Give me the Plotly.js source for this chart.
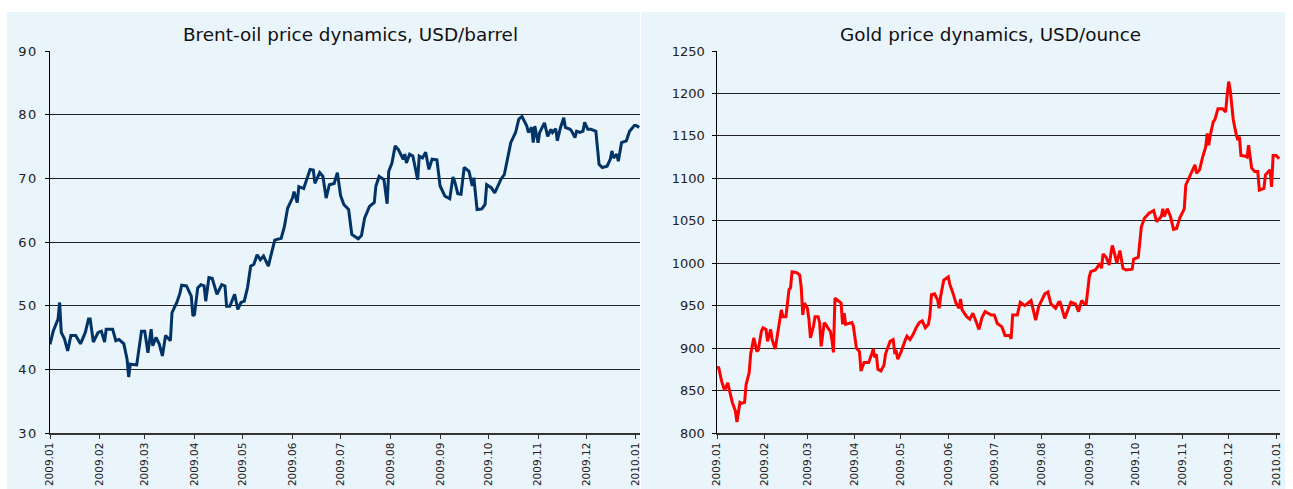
<!DOCTYPE html>
<html>
<head>
<meta charset="utf-8">
<script src="https://cdn.plot.ly/plotly-3.0.1.min.js"></script>
<style>
  html, body { margin: 0; padding: 0; background: #ffffff; }
  #chart { width: 1293px; height: 489px; }
  g.ytick text { letter-spacing: 1.5px; }
</style>
</head>
<body>
<div id="chart"></div>
<script>
// ---------- Data ----------
const brentDates = [
  "2009-01-01","2009-01-03","2009-01-06","2009-01-07","2009-01-08","2009-01-10","2009-01-12","2009-01-14","2009-01-17","2009-01-20",
  "2009-01-23","2009-01-25","2009-01-26","2009-01-28","2009-01-31","2009-02-02","2009-02-04","2009-02-05","2009-02-09","2009-02-11",
  "2009-02-13","2009-02-16","2009-02-18","2009-02-19","2009-02-20","2009-02-24","2009-02-27","2009-03-01","2009-03-03","2009-03-05",
  "2009-03-06","2009-03-08","2009-03-10","2009-03-12","2009-03-14","2009-03-17","2009-03-18","2009-03-21","2009-03-23","2009-03-24",
  "2009-03-27","2009-03-30","2009-03-31","2009-04-01","2009-04-03","2009-04-05","2009-04-07","2009-04-08","2009-04-10","2009-04-12",
  "2009-04-15","2009-04-18","2009-04-20","2009-04-21","2009-04-23","2009-04-26","2009-04-28","2009-04-30","2009-05-02","2009-05-04",
  "2009-05-06","2009-05-08","2009-05-10","2009-05-12","2009-05-14","2009-05-17","2009-05-19","2009-05-21","2009-05-25","2009-05-27",
  "2009-05-29","2009-06-01","2009-06-02","2009-06-04","2009-06-05","2009-06-08","2009-06-12","2009-06-14","2009-06-15","2009-06-18",
  "2009-06-20","2009-06-22","2009-06-24","2009-06-27","2009-06-29","2009-07-01","2009-07-03","2009-07-06","2009-07-08","2009-07-10",
  "2009-07-12","2009-07-14","2009-07-16","2009-07-19","2009-07-22","2009-07-23","2009-07-25","2009-07-28","2009-07-30","2009-07-31",
  "2009-08-02","2009-08-04","2009-08-06","2009-08-09","2009-08-10","2009-08-11","2009-08-13","2009-08-15","2009-08-18","2009-08-19",
  "2009-08-21","2009-08-23","2009-08-25","2009-08-27","2009-08-30","2009-09-01","2009-09-04","2009-09-07","2009-09-09","2009-09-10",
  "2009-09-12","2009-09-14","2009-09-16","2009-09-19","2009-09-21","2009-09-22","2009-09-24","2009-09-27","2009-09-29","2009-09-30",
  "2009-10-03","2009-10-05","2009-10-07","2009-10-09","2009-10-11","2009-10-13","2009-10-15","2009-10-18","2009-10-20","2009-10-22",
  "2009-10-25","2009-10-26","2009-10-28","2009-10-29","2009-10-30","2009-11-01","2009-11-02","2009-11-05","2009-11-07","2009-11-09",
  "2009-11-10","2009-11-12","2009-11-13","2009-11-15","2009-11-17","2009-11-18","2009-11-21","2009-11-22","2009-11-24","2009-11-25",
  "2009-11-27","2009-11-29","2009-11-30","2009-12-02","2009-12-04","2009-12-07","2009-12-08","2009-12-09","2009-12-11","2009-12-14",
  "2009-12-16","2009-12-17","2009-12-18","2009-12-20","2009-12-21","2009-12-23","2009-12-26","2009-12-28","2009-12-31","2010-01-01",
  "2010-01-03"
];
const brentValues = [
  43.9,46.0,47.9,50.5,45.8,44.8,42.9,45.3,45.3,44.0,
  45.8,47.9,47.9,44.3,45.8,46.0,44.3,46.3,46.3,44.5,
  44.7,44.0,41.6,38.8,40.8,40.7,46.0,46.0,42.6,46.3,
  43.7,45.0,44.0,42.1,45.3,44.5,48.9,50.5,52.0,53.2,
  53.1,51.5,48.4,48.6,52.8,53.3,53.1,50.7,54.4,54.3,
  51.8,53.3,53.1,49.9,49.9,51.8,49.4,50.5,50.7,52.8,
  56.2,56.5,58.0,57.2,57.8,56.2,58.3,60.3,60.6,62.4,
  65.3,66.9,67.9,66.2,68.7,68.4,71.4,71.3,69.2,70.9,
  70.3,66.9,69.0,69.2,70.9,67.3,65.9,65.1,61.2,60.9,
  60.5,61.0,63.8,65.6,66.2,68.8,70.3,69.8,66.0,71.1,
  72.4,75.1,74.5,73.0,73.8,72.4,73.8,73.5,69.8,73.5,
  73.2,74.1,71.4,73.0,72.9,68.8,67.2,66.8,70.2,69.6,
  67.6,67.5,71.7,71.1,68.8,70.1,65.1,65.2,65.9,69.0,
  68.5,67.7,68.8,69.9,70.6,73.2,75.6,77.2,79.3,79.7,
  78.2,77.2,78.0,75.6,78.2,75.6,77.2,78.7,76.6,77.7,
  77.2,77.8,75.9,78.0,79.5,78.0,77.7,77.4,76.4,77.4,
  77.2,77.4,78.8,77.7,77.7,77.4,74.0,72.2,71.7,71.9,
  73.0,74.3,73.2,73.8,72.7,75.6,75.9,77.4,78.3,78.3,
  78.0
];

const goldDates = [
  "2009-01-01","2009-01-02","2009-01-04","2009-01-06","2009-01-08","2009-01-09","2009-01-11","2009-01-13","2009-01-14","2009-01-16",
  "2009-01-17","2009-01-19","2009-01-20","2009-01-22","2009-01-23","2009-01-25","2009-01-27","2009-01-28","2009-01-30","2009-01-31",
  "2009-02-02","2009-02-03","2009-02-05","2009-02-06","2009-02-08","2009-02-10","2009-02-12","2009-02-13","2009-02-15","2009-02-17",
  "2009-02-18","2009-02-19","2009-02-22","2009-02-24","2009-02-25","2009-02-26","2009-02-27","2009-03-01","2009-03-02","2009-03-03",
  "2009-03-05","2009-03-06","2009-03-08","2009-03-09","2009-03-10","2009-03-12","2009-03-13","2009-03-15","2009-03-16","2009-03-17",
  "2009-03-18","2009-03-19","2009-03-21","2009-03-23","2009-03-24","2009-03-25","2009-03-26","2009-03-29","2009-03-30","2009-03-31",
  "2009-04-01","2009-04-02","2009-04-04","2009-04-05","2009-04-07","2009-04-10","2009-04-12","2009-04-13","2009-04-14","2009-04-15",
  "2009-04-16","2009-04-18","2009-04-20","2009-04-21","2009-04-24","2009-04-26","2009-04-27","2009-04-28","2009-04-29","2009-05-01",
  "2009-05-04","2009-05-05","2009-05-07","2009-05-09","2009-05-11","2009-05-13","2009-05-15","2009-05-17","2009-05-19","2009-05-20",
  "2009-05-21","2009-05-23","2009-05-25","2009-05-26","2009-05-27","2009-05-29","2009-06-01","2009-06-02","2009-06-04","2009-06-06",
  "2009-06-08","2009-06-09","2009-06-10","2009-06-13","2009-06-15","2009-06-17","2009-06-19","2009-06-21","2009-06-23","2009-06-25",
  "2009-06-27","2009-06-29","2009-07-01","2009-07-03","2009-07-06","2009-07-08","2009-07-11","2009-07-12","2009-07-13","2009-07-16",
  "2009-07-18","2009-07-21","2009-07-25","2009-07-28","2009-07-30","2009-08-03","2009-08-05","2009-08-07","2009-08-10","2009-08-12",
  "2009-08-13","2009-08-15","2009-08-16","2009-08-18","2009-08-20","2009-08-23","2009-08-25","2009-08-27","2009-08-29","2009-08-30",
  "2009-09-01","2009-09-02","2009-09-05","2009-09-08","2009-09-09","2009-09-10","2009-09-12","2009-09-14","2009-09-16","2009-09-17",
  "2009-09-19","2009-09-21","2009-09-23","2009-09-25","2009-09-29","2009-09-30","2009-10-03","2009-10-05","2009-10-07","2009-10-10",
  "2009-10-13","2009-10-15","2009-10-18","2009-10-19","2009-10-20","2009-10-22","2009-10-24","2009-10-26","2009-10-28","2009-10-30",
  "2009-11-02","2009-11-03","2009-11-05","2009-11-07","2009-11-09","2009-11-10","2009-11-12","2009-11-14","2009-11-16","2009-11-17",
  "2009-11-18","2009-11-19","2009-11-21","2009-11-22","2009-11-23","2009-11-24","2009-11-27","2009-11-29","2009-11-30","2009-12-01",
  "2009-12-02","2009-12-03","2009-12-04","2009-12-06","2009-12-07","2009-12-08","2009-12-09","2009-12-12","2009-12-13","2009-12-14",
  "2009-12-16","2009-12-18","2009-12-20","2009-12-21","2009-12-24","2009-12-25","2009-12-28","2009-12-29","2009-12-30","2010-01-01",
  "2010-01-03"
];
const goldValues = [
  875,878,861,850,859,850,836,826,813,836,
  835,836,857,871,893,912,896,898,920,924,
  922,908,922,910,899,922,945,937,937,969,
  971,990,989,986,971,939,953,947,934,912,
  926,937,937,930,902,930,928,922,920,910,
  895,959,956,953,928,941,928,930,930,926,
  910,900,896,873,883,883,893,899,889,893,
  875,873,880,893,908,910,895,896,887,895,
  910,914,910,916,924,930,932,924,928,939,
  963,964,957,947,961,980,984,975,965,953,
  947,958,945,937,934,941,932,922,936,943,
  941,939,939,929,925,915,915,911,939,939,
  954,950,956,933,949,964,966,952,947,954,
  954,941,935,945,954,952,943,956,952,952,
  984,990,992,1000,994,1011,1007,998,1021,1015,
  1000,1015,994,992,993,1005,1007,1043,1053,1059,
  1062,1049,1055,1064,1055,1064,1055,1040,1041,1053,
  1064,1092,1100,1106,1116,1106,1110,1125,1137,1153,
  1139,1151,1167,1169,1176,1182,1182,1178,1198,1214,
  1204,1186,1169,1151,1145,1149,1127,1126,1125,1139,
  1112,1108,1108,1086,1088,1104,1110,1090,1127,1127,
  1123
];

const monthTicks = ["2009-01-01","2009-02-01","2009-03-01","2009-04-01","2009-05-01","2009-06-01","2009-07-01",
  "2009-08-01","2009-09-01","2009-10-01","2009-11-01","2009-12-01","2010-01-01"];
const monthLabels = ["2009.01","2009.02","2009.03","2009.04","2009.05","2009.06","2009.07",
  "2009.08","2009.09","2009.10","2009.11","2009.12","2010.01"];

const brentTitle = "Brent-oil price dynamics, USD/barrel";
const goldTitle = "Gold price dynamics, USD/ounce";

// ---------- Layout ----------
const W = 1293, H = 489;
const px = v => v / W;
const py = v => 1 - v / H;
const FONT = "DejaVu Sans, Verdana, sans-serif";
const panelColor = "#eaf4fb";

function xaxisCfg(domain, anchor) {
  return {
    domain: domain, anchor: anchor, type: "date",
    range: ["2009-01-01", "2010-01-03 12:00"],
    tickmode: "array", tickvals: monthTicks, ticktext: monthLabels,
    tickangle: -90, ticks: "outside", ticklen: 4, tickcolor: "#333",
    tickfont: { family: FONT, size: 10.5, color: "#222" },
    showline: true, linecolor: "#333", linewidth: 1.5,
    showgrid: false, zeroline: false, fixedrange: true
  };
}
function yaxisCfg(anchor, range, dtick) {
  return {
    domain: [py(433), py(51)], anchor: anchor,
    range: range, dtick: dtick, tick0: range[0],
    ticks: "outside", ticklen: 4, tickcolor: "#000",
    ticklabelstandoff: 4,
    tickfont: { family: FONT, size: 13, color: "#222" },
    showline: true, linecolor: "#000", linewidth: 1.5,
    showgrid: true, gridcolor: "#222", gridwidth: 1,
    zeroline: false, fixedrange: true
  };
}

const data = [
  { x: brentDates, y: brentValues, xaxis: "x", yaxis: "y", type: "scatter", mode: "lines",
    line: { color: "#003366", width: 3 }, hoverinfo: "skip", showlegend: false },
  { x: goldDates, y: goldValues, xaxis: "x2", yaxis: "y2", type: "scatter", mode: "lines",
    line: { color: "#ff0000", width: 3 }, hoverinfo: "skip", showlegend: false }
];

const layout = {
  width: W, height: H,
  margin: { l: 0, r: 0, t: 0, b: 0, pad: 0 },
  paper_bgcolor: "#ffffff",
  plot_bgcolor: "rgba(0,0,0,0)",
  showlegend: false,
  xaxis: xaxisCfg([px(50), px(640)], "y"),
  yaxis: yaxisCfg("x", [30, 90], 10),
  xaxis2: xaxisCfg([px(717), px(1280)], "y2"),
  yaxis2: yaxisCfg("x2", [800, 1250], 50),
  shapes: [
    { type: "rect", xref: "paper", yref: "paper", x0: px(7), x1: px(640), y0: 0, y1: py(12),
      fillcolor: panelColor, line: { width: 0 }, layer: "below" },
    { type: "rect", xref: "paper", yref: "paper", x0: px(641), x1: px(1285), y0: 0, y1: py(12),
      fillcolor: panelColor, line: { width: 0 }, layer: "below" }
  ],
  annotations: [
    { text: brentTitle, xref: "paper", yref: "paper", x: px(350), y: py(35),
      xanchor: "center", yanchor: "middle", showarrow: false,
      font: { family: FONT, size: 18.4, color: "#111" } },
    { text: goldTitle, xref: "paper", yref: "paper", x: px(991), y: py(35),
      xanchor: "center", yanchor: "middle", showarrow: false,
      font: { family: FONT, size: 18.4, color: "#111" } }
  ]
};

Plotly.newPlot("chart", data, layout, { staticPlot: true, displayModeBar: false });
</script>
</body>
</html>
